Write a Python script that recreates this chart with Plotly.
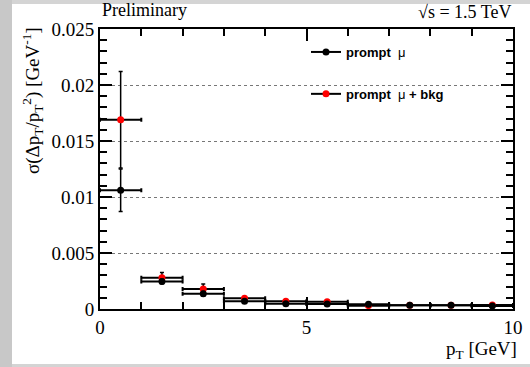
import plotly.graph_objects as go

# bin centres and half widths [GeV]
pt = [0.5, 1.5, 2.5, 3.5, 4.5, 5.5, 6.5, 7.5, 8.5, 9.5]
pt_halfwidth = [0.5] * 10

# prompt mu
prompt_val = [0.0106, 0.00245, 0.00137, 0.00069, 0.00047, 0.00045, 0.00042, 0.00033, 0.00033, 0.00027]
prompt_err = [0.0019, 0.0002, 0.0002, 0.0001, 0.00008, 0.00008, 0.00006, 0.00005, 0.00005, 0.00005]

# prompt mu + bkg
bkg_val = [0.0169, 0.0028, 0.00179, 0.00095, 0.00069, 0.00065, 0.00030, 0.00033, 0.00033, 0.00036]
bkg_err = [0.0043, 0.00045, 0.00044, 0.00012, 0.0001, 0.0001, 0.00008, 0.00006, 0.00006, 0.00006]

legend_names = ["<b>prompt</b>  μ", "<b>prompt</b>  μ <b>+ bkg</b>"]
colors = ["black", "#ff0000"]

W, H = 530, 367
L, R, T, B = 100, 17, 29, 58
pw, ph = W - L - R, H - T - B

def px(xp):
    return (xp - L) / pw

def py(yp):
    return (H - B - yp) / ph

fig = go.Figure()

# legend entries (in order)
for name, col, grp in zip(legend_names, colors, ["a", "b"]):
    fig.add_trace(go.Scatter(
        x=[None], y=[None], mode="lines+markers", name=name, legendgroup=grp,
        line=dict(color="black", width=2),
        marker=dict(color=col, size=7),
    ))

def add_series(vals, errs, color):
    fig.add_trace(go.Scatter(
        x=pt, y=vals, mode="markers",
        marker=dict(color=color, size=7, symbol="circle"),
        error_x=dict(type="data", array=pt_halfwidth, color="black", thickness=2, width=2),
        error_y=dict(type="data", array=errs, color="black", thickness=1.5, width=2),
        showlegend=False, hoverinfo="skip",
    ))

add_series(bkg_val, bkg_err, colors[1])
add_series(prompt_val, prompt_err, colors[0])

serif = "Liberation Serif"

fig.update_layout(
    width=W, height=H,
    margin=dict(l=L, r=R, t=T, b=B, autoexpand=False),
    paper_bgcolor="#d4d4d4",
    plot_bgcolor="white",
    showlegend=True,
    legend=dict(
        x=px(306), y=py(37), xanchor="left", yanchor="top",
        bgcolor="rgba(0,0,0,0)", borderwidth=0,
        font=dict(family="Liberation Sans", size=13, color="black"),
        traceorder="grouped", tracegroupgap=22,
        itemwidth=30,
    ),
    font=dict(family=serif, color="black"),
    xaxis=dict(
        range=[0, 10], showgrid=False, zeroline=False, automargin=False,
        showline=True, linecolor="black", linewidth=2, mirror="ticks",
        ticks="inside", ticklen=12, tickwidth=1.5, tickcolor="black",
        tickvals=[0, 5, 10], ticktext=["0", "5", "10"],
        tickfont=dict(family=serif, size=19),
        minor=dict(ticks="inside", ticklen=7, tickwidth=1.5, tickcolor="black", dtick=1, showgrid=False),
    ),
    yaxis=dict(
        range=[0, 0.025], zeroline=False, automargin=False,
        showgrid=True, gridcolor="#777777", gridwidth=1, griddash="dot",
        showline=True, linecolor="black", linewidth=2, mirror="ticks",
        ticks="inside", ticklen=12, tickwidth=1.5, tickcolor="black",
        tickvals=[0, 0.005, 0.01, 0.015, 0.02, 0.025],
        ticktext=["0", "0.005", "0.01", "0.015", "0.02", "0.025"],
        tickfont=dict(family=serif, size=19),
        minor=dict(ticks="inside", ticklen=7, tickwidth=1.5, tickcolor="black", dtick=0.001, showgrid=False),
    ),
    shapes=[
        dict(type="rect", xref="paper", yref="paper", layer="below",
             x0=px(12), x1=px(531), y0=py(364), y1=py(4),
             fillcolor="white", line=dict(width=0)),
        dict(type="rect", xref="paper", yref="paper", layer="below",
             x0=px(0), x1=px(12), y0=py(367), y1=py(0),
             fillcolor="#c8c8c8", line=dict(width=0)),
    ],
    annotations=[
        dict(text="Preliminary", xref="paper", yref="paper", x=px(100), y=py(22),
             xanchor="left", yanchor="bottom", showarrow=False,
             font=dict(family=serif, size=18)),
        dict(text="√s = 1.5 TeV", xref="paper", yref="paper", x=px(513), y=py(24),
             xanchor="right", yanchor="bottom", showarrow=False,
             font=dict(family=serif, size=18)),
        dict(text="p<sub>T</sub> [GeV]", xref="paper", yref="paper", x=px(519), y=py(364),
             xanchor="right", yanchor="bottom", showarrow=False,
             font=dict(family=serif, size=19)),
        dict(text="σ(Δp<sub>T</sub>/p<sub>T</sub><sup>2</sup>) [GeV<sup>-1</sup>]",
             xref="paper", yref="paper", x=px(17), y=py(25),
             xanchor="left", yanchor="top", textangle=-90, showarrow=False,
             font=dict(family=serif, size=19)),
    ],
)

fig.write_html("out.html", config={"displayModeBar": False},
               post_script="document.body.style.margin='0';document.body.style.overflow='hidden';")
